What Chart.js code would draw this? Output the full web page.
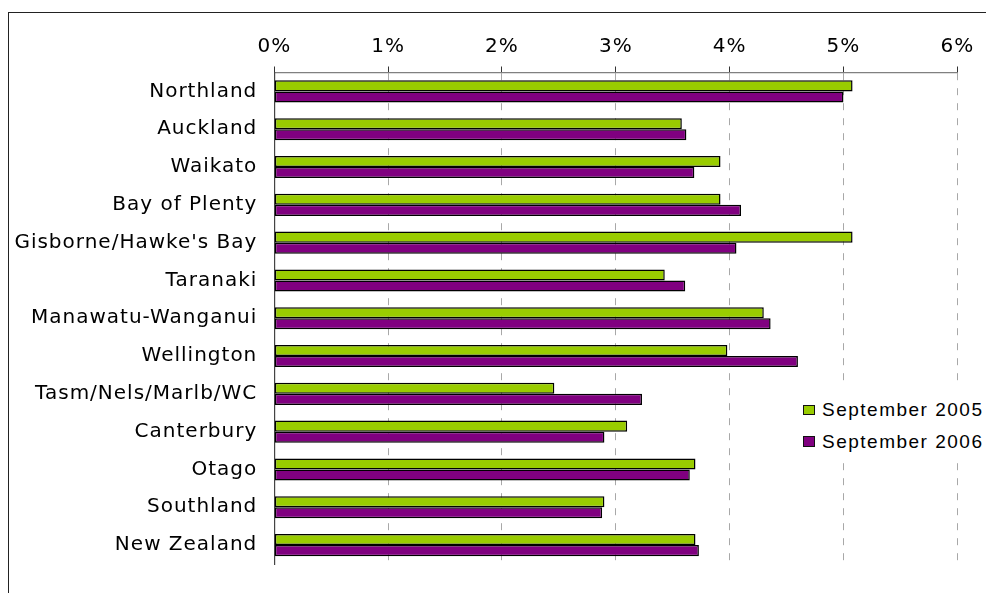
<!DOCTYPE html>
<html>
<head>
<meta charset="utf-8">
<script src="https://cdn.jsdelivr.net/npm/chart.js@4.4.1/dist/chart.umd.min.js"></script>
<style>
html, body { margin: 0; padding: 0; background: #fff; overflow: hidden; }
#frame { position: absolute; left: 8px; top: 12px; width: 1200px; height: 800px; border: 1.5px solid #222; }
#chart { position: absolute; left: 0; top: 0; }
#legend { position: absolute; left: 797px; top: 388px; width: 189px; height: 71px; background: #fff;
  font-family: "Liberation Sans", Arial, sans-serif; font-size: 19px; letter-spacing: 1.5px; color: #000; }
#legend .item { position: absolute; left: 6px; height: 22px; line-height: 22px; white-space: nowrap; }
#legend .box { display: inline-block; width: 10px; height: 8.5px; border: 1.5px solid #111; vertical-align: middle; margin-right: 7px; position: relative; top: -1px; }
</style>
</head>
<body>
<div id="frame"></div>
<canvas id="chart" width="986" height="593"></canvas>
<div id="legend"></div>
<script>
const regions = ['Northland', 'Auckland', 'Waikato', 'Bay of Plenty', "Gisborne/Hawke's Bay", 'Taranaki',
  'Manawatu-Wanganui', 'Wellington', 'Tasm/Nels/Marlb/WC', 'Canterbury', 'Otago', 'Southland', 'New Zealand'];

const sep2005 = [5.08, 3.58, 3.92, 3.92, 5.08, 3.43, 4.30, 3.98, 2.46, 3.10, 3.70, 2.90, 3.70];
const sep2006 = [5.00, 3.62, 3.69, 4.10, 4.06, 3.61, 4.36, 4.60, 3.23, 2.90, 3.65, 2.88, 3.73];

const seriesNames = ['September 2005', 'September 2006'];
const seriesColors = ['#99cc00', '#800080'];

const axisFont = { family: 'DejaVu Sans', size: 20 };

// the original's axis text is spaced out a little
const spacing = {
  id: 'spacing',
  beforeLayout: (c) => { c.ctx.letterSpacing = '1px'; },
  beforeDraw: (c) => { c.ctx.letterSpacing = '1px'; }
};

const chart = new Chart(document.getElementById('chart'), {
  type: 'bar',
  data: {
    labels: regions,
    datasets: [
      { label: seriesNames[0], data: sep2005, backgroundColor: seriesColors[0] },
      { label: seriesNames[1], data: sep2006, backgroundColor: seriesColors[1] }
    ]
  },
  plugins: [spacing],
  options: {
    indexAxis: 'y',
    responsive: false,
    animation: false,
    layout: { padding: { left: 0, top: 0, right: 28.7, bottom: 16.5 } },
    datasets: {
      bar: {
        borderColor: '#000',
        borderWidth: 1.5,
        borderSkipped: false,
        categoryPercentage: 0.585,
        barPercentage: 1.0
      }
    },
    plugins: {
      legend: { display: false },
      tooltip: { enabled: false }
    },
    scales: {
      x: {
        position: 'top',
        min: 0,
        max: 6,
        afterFit: (s) => { s.height = 72.5; },
        ticks: {
          stepSize: 1,
          padding: 8,
          color: '#000',
          font: axisFont,
          callback: (v) => v + '%'
        },
        grid: {
          color: (c) => (c.tick && c.tick.value === 0) ? 'rgba(0,0,0,0)' : '#a8a8a8',
          tickColor: '#333',
          tickLength: 6,
          lineWidth: 1
        },
        border: { color: '#808080', width: 1.2, dash: [7, 8] }
      },
      y: {
        afterFit: (s) => { s.width = 274.3; },
        ticks: {
          padding: 17,
          color: '#000',
          font: axisFont,
          autoSkip: false
        },
        grid: { drawOnChartArea: false, drawTicks: false },
        border: { color: '#444', width: 1.2 }
      }
    }
  }
});

// legend drawn over the plot, like the original
const legendEl = document.getElementById('legend');
const rowTops = [11, 42.7];
chart.data.datasets.forEach((ds, i) => {
  const item = document.createElement('div');
  item.className = 'item';
  item.style.top = rowTops[i] + 'px';
  item.innerHTML = '<span class="box" style="background:' + ds.backgroundColor + '"></span>' + ds.label;
  legendEl.appendChild(item);
});
</script>
</body>
</html>
